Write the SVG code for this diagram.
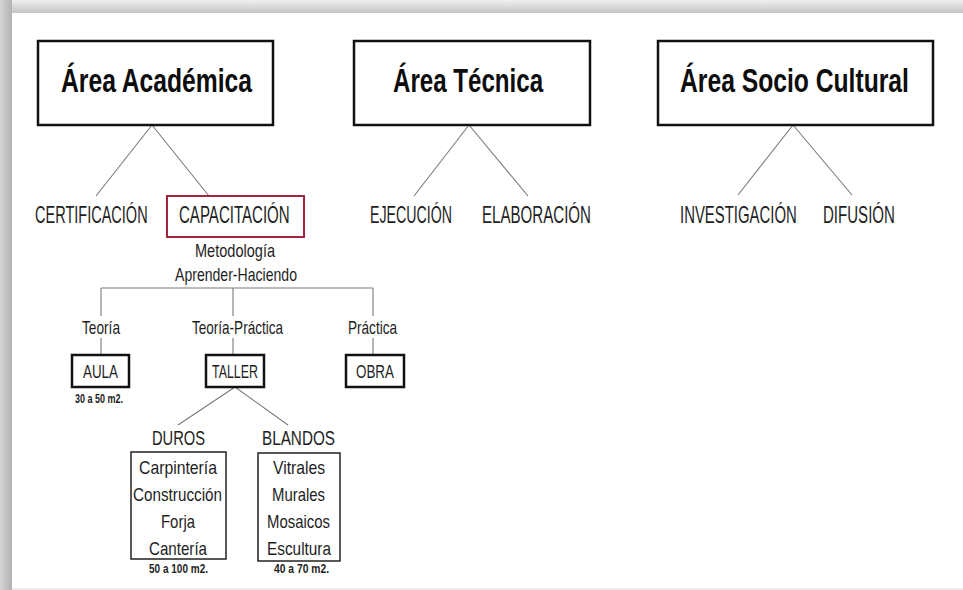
<svg xmlns="http://www.w3.org/2000/svg" width="963" height="590" viewBox="0 0 963 590">
<defs>
<linearGradient id="topband" x1="0" y1="0" x2="0" y2="1">
<stop offset="0" stop-color="#f0f0f0"/>
<stop offset="1" stop-color="#c4c4c4"/>
</linearGradient>
<linearGradient id="leftband" x1="0" y1="0" x2="1" y2="0">
<stop offset="0" stop-color="#d6d6d6"/>
<stop offset="1" stop-color="#b2b2b2"/>
</linearGradient>
<style>
text{font-family:"Liberation Sans","DejaVu Sans",sans-serif;fill:#1e1e1e;}
.h{font-weight:bold;font-size:34px;fill:#0d0d0d;}
.m{font-size:24px;}
.s{font-size:19px;}
.t{font-size:21px;}
.n{font-size:12px;font-weight:bold;}
.box{fill:#fff;stroke:#111;stroke-width:2.5;}
.hbox{fill:#fff;stroke:#111;stroke-width:2.5;}
.lbox{fill:#fff;stroke:#222;stroke-width:1.5;}
.red{fill:#fff;stroke:#a3243d;stroke-width:2;}
.c{stroke:#7a7a7a;stroke-width:1.1;fill:none;}
</style>
</defs>
<rect x="0" y="0" width="963" height="590" fill="#fff"/>
<rect x="0" y="0" width="963" height="13" fill="url(#topband)"/>
<rect x="0" y="0" width="12" height="590" fill="url(#leftband)"/>
<rect x="12" y="588" width="951" height="2" fill="#ececec"/>

<g id="connectors">
<line class="c" x1="152" y1="125" x2="96" y2="196"/>
<line class="c" x1="152" y1="125" x2="209" y2="196"/>
<line class="c" x1="469" y1="125" x2="414" y2="196"/>
<line class="c" x1="469" y1="125" x2="528" y2="196"/>
<line class="c" x1="793" y1="125" x2="738" y2="195"/>
<line class="c" x1="793" y1="125" x2="852" y2="195"/>
<line class="c" x1="101" y1="288" x2="373" y2="288"/>
<line class="c" x1="101" y1="288" x2="101" y2="316"/>
<line class="c" x1="233" y1="288" x2="233" y2="316"/>
<line class="c" x1="373" y1="288" x2="373" y2="316"/>
<line class="c" x1="101" y1="338" x2="101" y2="355"/>
<line class="c" x1="233" y1="338" x2="233" y2="355"/>
<line class="c" x1="373" y1="338" x2="373" y2="355"/>
<line class="c" x1="235" y1="387" x2="178" y2="425"/>
<line class="c" x1="235" y1="387" x2="288" y2="425"/>
</g>

<g id="area-academica">
<rect class="hbox" x="38" y="41" width="235" height="84"/>
<text class="h" transform="translate(61 92) scale(0.726 1)">Área Académica</text>
</g>
<g id="area-tecnica">
<rect class="hbox" x="354" y="41" width="236" height="84"/>
<text class="h" transform="translate(393 92) scale(0.709 1)">Área Técnica</text>
</g>
<g id="area-socio-cultural">
<rect class="hbox" x="658" y="41" width="275" height="84"/>
<text class="h" transform="translate(680 92) scale(0.726 1)">Área Socio Cultural</text>
</g>

<g id="certificacion">
<text class="m" transform="translate(35 223) scale(0.605 1)">CERTIFICACIÓN</text>
</g>
<g id="capacitacion">
<rect class="red" x="167" y="196" width="137" height="41"/>
<text class="m" transform="translate(179 223) scale(0.628 1)">CAPACITACIÓN</text>
</g>
<g id="ejecucion">
<text class="m" transform="translate(370 223) scale(0.591 1)">EJECUCIÓN</text>
</g>
<g id="elaboracion">
<text class="m" transform="translate(482 223) scale(0.629 1)">ELABORACIÓN</text>
</g>
<g id="investigacion">
<text class="m" transform="translate(680 223) scale(0.622 1)">INVESTIGACIÓN</text>
</g>
<g id="difusion">
<text class="m" transform="translate(823 223) scale(0.628 1)">DIFUSIÓN</text>
</g>

<g id="metodologia">
<text class="s" x="195" y="257" textLength="80" lengthAdjust="spacingAndGlyphs">Metodología</text>
<text class="s" x="175" y="281" textLength="122" lengthAdjust="spacingAndGlyphs">Aprender-Haciendo</text>
</g>

<g id="teoria">
<text class="s" x="82" y="334" textLength="38" lengthAdjust="spacingAndGlyphs">Teoría</text>
</g>
<g id="teoria-practica">
<text class="s" x="192" y="334" textLength="91" lengthAdjust="spacingAndGlyphs">Teoría-Práctica</text>
</g>
<g id="practica">
<text class="s" x="348" y="334" textLength="49" lengthAdjust="spacingAndGlyphs">Práctica</text>
</g>

<g id="aula">
<rect class="box" x="72" y="355" width="57" height="32"/>
<text class="s" x="83" y="378" textLength="35" lengthAdjust="spacingAndGlyphs">AULA</text>
<text class="n" x="75" y="403" textLength="48" lengthAdjust="spacingAndGlyphs">30 a 50 m2.</text>
</g>
<g id="taller">
<rect class="box" x="206" y="355" width="58" height="32"/>
<text class="s" x="212" y="378" textLength="46" lengthAdjust="spacingAndGlyphs">TALLER</text>
</g>
<g id="obra">
<rect class="box" x="346" y="355" width="58" height="32"/>
<text class="s" x="356" y="378" textLength="38" lengthAdjust="spacingAndGlyphs">OBRA</text>
</g>

<g id="duros">
<text class="t" x="152" y="445" textLength="53" lengthAdjust="spacingAndGlyphs">DUROS</text>
<rect class="lbox" x="131" y="452" width="95" height="107"/>
<text class="s" x="139" y="474" textLength="78" lengthAdjust="spacingAndGlyphs">Carpintería</text>
<text class="s" x="133" y="501" textLength="89" lengthAdjust="spacingAndGlyphs">Construcción</text>
<text class="s" x="161" y="528" textLength="34" lengthAdjust="spacingAndGlyphs">Forja</text>
<text class="s" x="149" y="555" textLength="58" lengthAdjust="spacingAndGlyphs">Cantería</text>
<text class="n" x="149" y="573" textLength="59" lengthAdjust="spacingAndGlyphs">50 a 100 m2.</text>
</g>
<g id="blandos">
<text class="t" x="262" y="445" textLength="73" lengthAdjust="spacingAndGlyphs">BLANDOS</text>
<rect class="lbox" x="258" y="453" width="82" height="108"/>
<text class="s" x="273" y="474" textLength="52" lengthAdjust="spacingAndGlyphs">Vitrales</text>
<text class="s" x="272" y="501" textLength="53" lengthAdjust="spacingAndGlyphs">Murales</text>
<text class="s" x="267" y="528" textLength="63" lengthAdjust="spacingAndGlyphs">Mosaicos</text>
<text class="s" x="267" y="555" textLength="64" lengthAdjust="spacingAndGlyphs">Escultura</text>
<text class="n" x="274" y="573" textLength="55" lengthAdjust="spacingAndGlyphs">40 a 70 m2.</text>
</g>
</svg>
